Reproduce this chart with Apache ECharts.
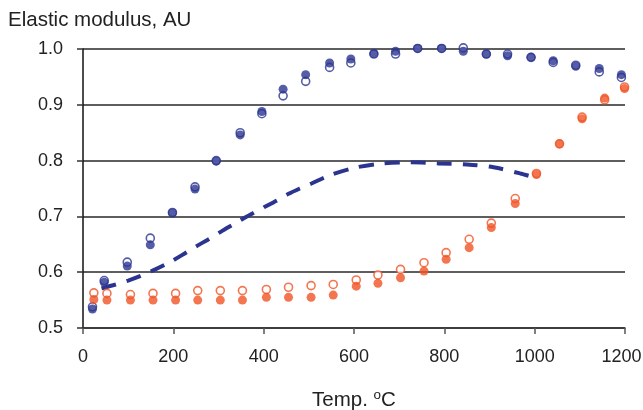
<!DOCTYPE html>
<html>
<head>
<meta charset="utf-8">
<script src="https://cdn.jsdelivr.net/npm/echarts@6/dist/echarts.min.js"></script>
<style>
  html, body { margin: 0; padding: 0; background: #fff; overflow: hidden; }
  #chart { width: 643px; height: 410px; }
</style>
</head>
<body>
<div id="chart"></div>
<script>
// Temperatures (°C) and elastic modulus readings (arbitrary units)
var tempBlue = [21, 47, 98, 149, 198, 248, 295, 348, 396, 443, 493, 546, 593, 644, 692, 741, 794, 842, 893, 940, 992, 1041, 1091, 1143, 1192];
var blueFilled = [0.534, 0.582, 0.611, 0.649, 0.706, 0.749, 0.799, 0.846, 0.888, 0.928, 0.954, 0.975, 0.982, 0.992, 0.996, 1.001, 1.001, 0.996, 0.991, 0.988, 0.985, 0.979, 0.969, 0.965, 0.954];
var blueOpen = [0.538, 0.585, 0.618, 0.661, 0.707, 0.753, 0.800, 0.850, 0.884, 0.916, 0.942, 0.967, 0.975, 0.991, 0.991, 1.001, 1.001, 1.002, 0.991, 0.991, 0.985, 0.976, 0.971, 0.959, 0.949];

var tempOrange = [24, 53, 105, 155, 205, 254, 304, 353, 406, 455, 505, 554, 605, 653, 703, 755, 804, 855, 904, 957, 1004, 1055, 1105, 1155, 1199];
var orangeFilled = [0.551, 0.550, 0.550, 0.550, 0.550, 0.550, 0.550, 0.550, 0.555, 0.555, 0.555, 0.559, 0.575, 0.580, 0.590, 0.602, 0.623, 0.644, 0.680, 0.723, 0.775, 0.830, 0.875, 0.912, 0.929];
var orangeOpen = [0.563, 0.562, 0.560, 0.562, 0.562, 0.567, 0.567, 0.567, 0.569, 0.573, 0.576, 0.578, 0.586, 0.595, 0.605, 0.617, 0.635, 0.659, 0.688, 0.732, 0.777, 0.830, 0.878, 0.909, 0.932];

// Dashed trend curve
var tempCurve = [41, 72, 100, 130, 160, 190, 220, 250, 280, 310, 340, 370, 400, 430, 454, 480, 506, 547, 606, 665, 727, 787, 850, 909, 968, 990];
var curveValues = [0.571, 0.578, 0.585, 0.594, 0.605, 0.617, 0.631, 0.646, 0.660, 0.675, 0.689, 0.703, 0.716, 0.729, 0.740, 0.750, 0.759, 0.774, 0.788, 0.795, 0.797, 0.795, 0.793, 0.788, 0.777, 0.772];

var xTicks = [0, 200, 400, 600, 800, 1000, 1200];
var yTicks = [0.5, 0.6, 0.7, 0.8, 0.9, 1.0];

var BLUE = '#2b3590';
var ORANGE = '#f05426';
var FONT = '"Liberation Sans", Arial, sans-serif';

function pairs(xs, ys) {
  return xs.map(function (x, i) { return [x, ys[i]]; });
}

var chart = echarts.init(document.getElementById('chart'), null, { renderer: 'canvas', width: 643, height: 410 });

chart.setOption({
  animation: false,
  backgroundColor: '#fff',
  title: {
    text: 'Elastic modulus, AU',
    left: 8,
    top: 10,
    padding: 0,
    textStyle: { fontFamily: FONT, fontSize: 20.5, fontWeight: 'normal', color: '#222' }
  },
  grid: { left: 83, right: 18, top: 49, bottom: 82, containLabel: false, outerBoundsMode: 'none' },
  xAxis: {
    type: 'value',
    min: xTicks[0],
    max: xTicks[xTicks.length - 1],
    interval: 200,
    name: 'Temp. {sup|o}C',
    nameLocation: 'middle',
    nameGap: 60,
    nameTextStyle: {
      fontFamily: FONT, fontSize: 20.5, color: '#222',
      rich: { sup: { fontFamily: FONT, fontSize: 13.5, color: '#222', padding: [0, 0, 11, 0] } }
    },
    axisLine: { show: true, lineStyle: { color: '#333', width: 1.5 } },
    axisTick: { show: true, inside: false, length: 6, lineStyle: { color: '#555', width: 1.5 } },
    axisLabel: {
      fontFamily: FONT, fontSize: 18, color: '#222', margin: 20,
      formatter: function (v) {
        return v === xTicks[xTicks.length - 1] ? '{last|' + v + '}' : String(v);
      },
      rich: { last: { fontFamily: FONT, fontSize: 18, color: '#222', padding: [0, 7, 0, 0] } }
    },
    splitLine: { show: false }
  },
  yAxis: {
    type: 'value',
    min: yTicks[0],
    max: yTicks[yTicks.length - 1],
    interval: 0.1,
    axisLine: { show: true, lineStyle: { color: '#111', width: 1.5 } },
    axisTick: { show: true, inside: false, length: 6, lineStyle: { color: '#333', width: 1.5 } },
    axisLabel: {
      fontFamily: FONT, fontSize: 18, color: '#222', margin: 20,
      formatter: function (v) { return v.toFixed(1); }
    },
    splitLine: { show: true, lineStyle: { color: '#5e5e5e', width: 2 } }
  },
  series: [
    {
      type: 'line',
      data: pairs(tempCurve, curveValues),
      smooth: 0.3,
      showSymbol: false,
      clip: false,
      lineStyle: { color: BLUE, width: 4, type: [15, 11] },
      z: 2
    },
    {
      type: 'scatter',
      data: pairs(tempOrange, orangeOpen),
      symbol: 'circle',
      symbolSize: 8,
      clip: false,
      itemStyle: { color: '#fff', borderColor: ORANGE, borderWidth: 1.6 },
      z: 3
    },
    {
      type: 'scatter',
      data: pairs(tempOrange, orangeFilled),
      symbol: 'circle',
      symbolSize: 9,
      clip: false,
      itemStyle: { color: ORANGE },
      z: 4
    },
    {
      type: 'scatter',
      data: pairs(tempBlue, blueOpen),
      symbol: 'circle',
      symbolSize: 8,
      clip: false,
      itemStyle: { color: '#fff', borderColor: BLUE, borderWidth: 1.6 },
      z: 3
    },
    {
      type: 'scatter',
      data: pairs(tempBlue, blueFilled),
      symbol: 'circle',
      symbolSize: 9,
      clip: false,
      itemStyle: { color: BLUE },
      z: 4
    }
  ]
});
</script>
</body>
</html>
